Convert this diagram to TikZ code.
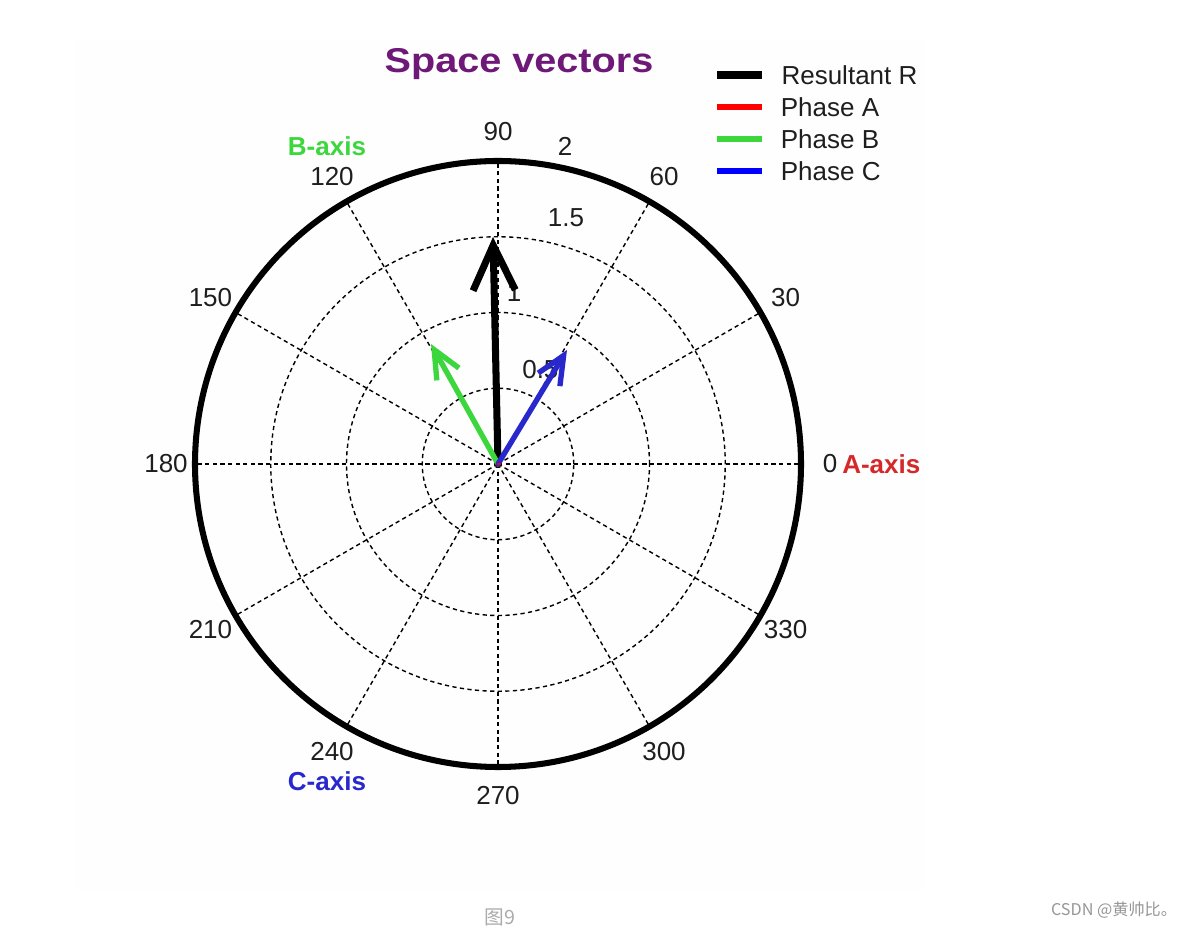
\documentclass[tikz,border=0pt]{standalone}
\usepackage{fontspec}
\setmainfont{Liberation Sans}
\newfontfamily\cjkfont{Noto Sans CJK SC}
\usetikzlibrary{arrows.meta}
\definecolor{titlepurple}{RGB}{110,24,120}
\definecolor{axisred}{RGB}{214,40,40}
\definecolor{axisgreen}{RGB}{60,215,60}
\definecolor{axisblue}{RGB}{40,40,205}
\definecolor{labelgray}{RGB}{30,30,30}
\definecolor{markgray}{RGB}{150,150,150}
\newcommand*{\RR}{151.5}

\begin{document}
\begin{tikzpicture}[x=0.025cm, y=0.025cm,
		grid/.style={line width=1pt, dash pattern=on 3pt off 2.4pt},
		lbl/.style={font=\fontsize{18.5}{22}\selectfont, text=labelgray, inner sep=0pt},
		axislbl/.style={font=\bfseries\fontsize{18.5}{22}\selectfont, inner sep=0pt},
		vec/.style={line width=#1, line cap=round, line join=round}]
		\path[use as bounding box, clip] (0,0) rectangle (1192,928);
		\fill[gray!1] (75,38) rectangle (925,888);
		\coordinate (O) at (498,464);
		
		% grid
		\foreach \r in {0.5,1,1.5}
		\draw[grid] (O) circle ({\r*\RR});
		\foreach \a in {0,30,...,330}
		\draw[grid] (O) -- ++(\a:{2*\RR});
		\draw[line width=4.3pt] (O) circle ({2*\RR});
		
		% angle and radius labels
		\foreach \a in {0,30,...,330}
		\path (O) ++(\a:332) node[lbl] (ang\a) {\a};
		\node[lbl] (r2) at (565,782) {2};
		\node[lbl] (r15) at (566,710) {1.5};
		\node[lbl] (r1) at (514,635) {1};
		\node[lbl, anchor=west] (r05) at (522,558) {0.5};
		
		% axis names
		\node[axislbl, text=axisred, anchor=west] (Aaxis) at (842,464) {A-axis};
		\node[axislbl, text=axisgreen] (Baxis) at (327,782) {B-axis};
		\node[axislbl, text=axisblue] (Caxis) at (327,147) {C-axis};
		
		% vectors
		\coordinate (tipR) at (493,691);
		\coordinate (tipB) at (431,584);
		\coordinate (tipC) at (567,578);
		\draw[vec=5pt, -{Straight Barb[length=32pt, width=30pt]}] (O) -- (tipR);
		\draw[vec=3.8pt, axisgreen, -{Straight Barb[length=20pt, width=18pt]}] (O) -- (tipB);
		\draw[vec=3.8pt, axisblue, -{Straight Barb[length=20pt, width=18pt]}] (O) -- (tipC);
		\draw[vec=2pt, red] (O) -- ++(2,0);
		
		% title and legend
		\node[font=\bfseries\fontsize{24.5}{28}\selectfont, text=titlepurple] (title) at (519,864)
		{\scalebox{1.15}[1]{Space vectors}};
		\coordinate (LR) at (717,853);
		\coordinate (LA) at (717,821);
		\coordinate (LB) at (717,789);
		\coordinate (LC) at (717,757);
		\draw[line width=5pt] (LR) -- ++(45,0) node[lbl, anchor=west, xshift=0.4cm] (legR) {Resultant R};
		\draw[line width=4pt, red] (LA) -- ++(45,0) node[lbl, anchor=west, xshift=0.4cm] (legA) {Phase A};
		\draw[line width=4pt, axisgreen] (LB) -- ++(45,0) node[lbl, anchor=west, xshift=0.4cm] (legB) {Phase B};
		\draw[line width=4pt, blue] (LC) -- ++(45,0) node[lbl, anchor=west, xshift=0.4cm] (legC) {Phase C};
		
		% caption and mark
		\node[font=\cjkfont\fontsize{14}{16}\selectfont, text=markgray!80] (cap) at (500,11) {图9};
		\node[font=\cjkfont\fontsize{11.5}{14}\selectfont, text=markgray, anchor=east] (mark) at (1182,18) {CSDN @黄帅比。};
\end{tikzpicture}
\end{document}
